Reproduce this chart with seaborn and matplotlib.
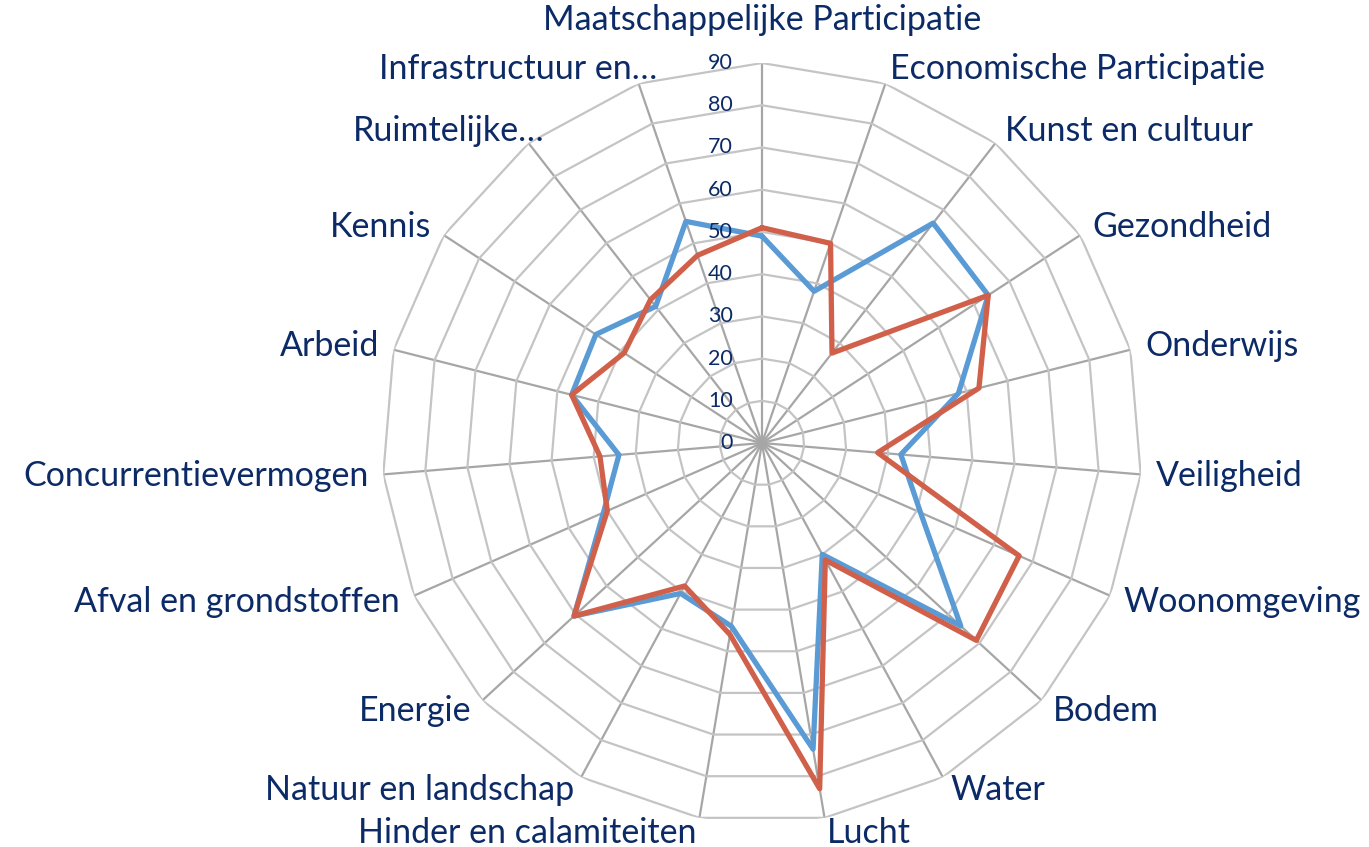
#!/usr/bin/env python3
"""Radar chart: two series over 19 themes (Excel-style polygon grid)."""

import matplotlib
matplotlib.use("Agg")
import matplotlib.pyplot as plt
import numpy as np
import pandas as pd
import seaborn as sns

categories = [
    "Maatschappelijke Participatie", "Economische Participatie", "Kunst en cultuur",
    "Gezondheid", "Onderwijs", "Veiligheid", "Woonomgeving", "Bodem", "Water",
    "Lucht", "Hinder en calamiteiten", "Natuur en landschap", "Energie",
    "Afval en grondstoffen", "Concurrentievermogen", "Arbeid", "Kennis",
    "Ruimtelijke…", "Infrastructuur en…",
]
reeks1 = [49, 38, 66, 64, 48, 33, 41, 64, 30, 73.5, 44, 40.5, 60.5, 41, 34, 46.5, 47, 41, 55.5]
reeks2 = [51, 50, 27, 64, 53, 27.5, 66.5, 69, 31.5, 83, 46, 38.5, 60.5, 40, 38.5, 46.5, 39, 43, 47]
r_ticks = [0, 10, 20, 30, 40, 50, 60, 70, 80, 90]

BLUE = "#5B9BD5"
RED = "#D0604A"
NAVY = "#0B2A66"


def main():
    sns.set_style("white")
    plt.rcParams["font.family"] = ["Lato", "DejaVu Sans"]

    n = len(categories)
    theta = np.arange(n) * 2 * np.pi / n
    theta_closed = np.append(theta, 2 * np.pi)

    rows = []
    for name, vals in [("Reeks1", reeks1), ("Reeks2", reeks2)]:
        closed = list(vals) + [vals[0]]
        for t, v in zip(theta_closed, closed):
            rows.append({"theta": t, "waarde": v, "reeks": name})
    df = pd.DataFrame(rows)

    fig = plt.figure(figsize=(13.69, 8.47), dpi=100)
    ax = fig.add_axes([0.279, 0.0283, 0.5552, 0.8973], projection="polar")
    ax.set_theta_zero_location("N")
    ax.set_theta_direction(-1)
    ax.set_ylim(0, 90)

    # grid: straight spokes + polygon rings
    ax.set_xticks(theta)
    ax.set_xticklabels([])
    ax.set_yticks(r_ticks)
    ax.set_yticklabels([])
    ax.yaxis.grid(False)
    ax.xaxis.grid(True, color="#A6A6A6", linewidth=1.6)
    ax.spines["polar"].set_visible(False)
    for r in r_ticks[1:]:
        ax.plot(theta_closed, [r] * len(theta_closed), color="#C4C4C4", linewidth=1.6, zorder=1)

    sns.lineplot(data=df, x="theta", y="waarde", hue="reeks", sort=False, estimator=None,
                 palette={"Reeks1": BLUE, "Reeks2": RED}, linewidth=3.8, legend=False,
                 ax=ax, zorder=3)
    ax.set_xlabel("")
    ax.set_ylabel("")

    # radial value labels along the top spoke
    for r in r_ticks:
        ax.annotate(str(r), xy=(0, r), xytext=(-29, 0), textcoords="offset pixels",
                    ha="right", va="center", fontsize=15.5, color=NAVY)

    # category labels outside the outer ring (truncated ones sit a bit further right)
    nudge = {"Ruimtelijke…": 25, "Infrastructuur en…": 24}
    for t, label in zip(theta, categories):
        s, c = np.sin(t), np.cos(t)
        if abs(s) < 0.05:
            dx, dy, ha = 0, 43, "center"
        else:
            dx, dy = 15 * s, 15 * c
            ha = "left" if s > 0 else "right"
        dx += nudge.get(label, 0)
        ax.annotate(label, xy=(t, 90), xytext=(dx, dy), textcoords="offset pixels",
                    ha=ha, va="center", fontsize=24.5, color=NAVY, annotation_clip=False)

    fig.savefig("out.png", dpi=100)
    plt.close(fig)


if __name__ == "__main__":
    main()
